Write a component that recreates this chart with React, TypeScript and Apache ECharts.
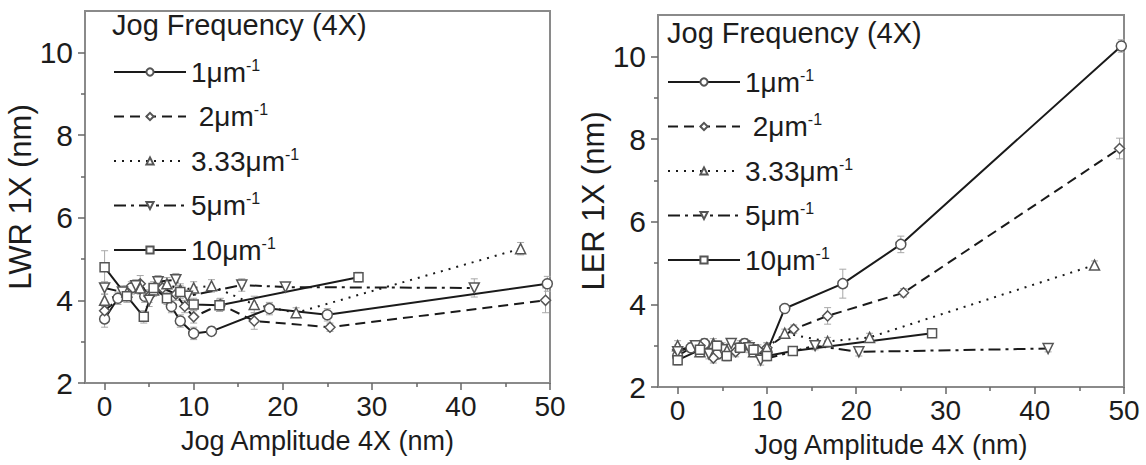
import React, { useEffect, useRef } from "react";
import * as echarts from "echarts";

// ---------- data ----------
const seriesNames = ["1μm", "2μm", "3.33μm", "5μm", "10μm"];
const legendLabels = ["1μm", " 2μm", "3.33μm", "5μm", "10μm"];

const xTicks = [0, 10, 20, 30, 40, 50];
const xMinorTicks = [5, 15, 25, 35, 45];
const yTicks = [2, 4, 6, 8, 10];
const yMinorTicks = [3, 5, 7, 9];

// jog amplitudes (x) per jog frequency
const amp1 = [0, 1.5, 3, 4.5, 6, 7.5, 8.5, 10, 12, 18.5, 25, 49.7];
const amp2 = [0, 2.5, 4, 5, 6.5, 8, 9, 10, 13, 16.8, 25.3, 49.5];
const amp333 = [0, 2.5, 4, 5.5, 7, 8.5, 10, 12, 16.8, 21.5, 46.7];
const amp5 = [0, 2, 3.5, 5, 6, 8, 9.3, 15.4, 20.3, 41.5];
const amp10 = [0, 2.5, 4.4, 5.5, 7, 8.5, 10, 12.9, 28.5];

// LWR 1X (nm)
const lwr1 = [3.55, 4.05, 4.3, 4.1, 4.35, 3.85, 3.5, 3.2, 3.25, 3.8, 3.65, 4.4];
const lwr2 = [3.75, 4.2, 4.4, 4.1, 4.3, 4.15, 3.85, 3.6, 3.9, 3.5, 3.35, 4.0];
const lwr333 = [4.0, 4.2, 4.3, 4.25, 4.4, 4.25, 4.3, 4.35, 3.9, 3.7, 5.25];
const lwr5 = [4.3, 4.2, 4.35, 4.0, 4.45, 4.5, 4.1, 4.37, 4.32, 4.3];
const lwr10 = [4.8, 4.1, 3.6, 4.3, 4.05, 4.2, 3.9, 3.88, 4.56];

const lwrErr1 = [0.2, 0.15, 0.15, 0.15, 0.15, 0.15, 0.15, 0.15, 0.1, 0.15, 0.15, 0.18];
const lwrErr2 = [0.15, 0.15, 0.2, 0.15, 0.15, 0.15, 0.15, 0.15, 0.15, 0.2, 0.1, 0.3];
const lwrErr333 = [0.15, 0.15, 0.15, 0.15, 0.15, 0.15, 0.15, 0.15, 0.2, 0.12, 0.15];
const lwrErr5 = [0.15, 0.15, 0.15, 0.15, 0.15, 0.15, 0.15, 0.15, 0.1, 0.22];
const lwrErr10 = [0.4, 0.15, 0.15, 0.15, 0.15, 0.15, 0.15, 0.15, 0.12];

// LER 1X (nm)
const ler1 = [2.75, 2.95, 3.05, 2.8, 2.95, 3.05, 2.9, 2.85, 3.9, 4.5, 5.45, 10.25];
const ler2 = [2.9, 3.0, 2.7, 2.95, 2.85, 3.0, 2.9, 2.95, 3.4, 3.72, 4.28, 7.77];
const ler333 = [3.0, 2.85, 3.05, 2.9, 3.0, 2.85, 2.95, 3.3, 3.1, 3.2, 4.95];
const ler5 = [2.85, 3.0, 2.8, 2.9, 3.05, 2.95, 2.65, 3.0, 2.85, 2.93];
const ler10 = [2.65, 2.9, 3.0, 2.75, 2.95, 2.9, 2.75, 2.87, 3.3];

const lerErr1 = [0.15, 0.12, 0.12, 0.12, 0.12, 0.12, 0.12, 0.12, 0.1, 0.35, 0.2, 0.15];
const lerErr2 = [0.12, 0.12, 0.12, 0.12, 0.12, 0.12, 0.12, 0.12, 0.1, 0.2, 0.1, 0.25];
const lerErr333 = [0.12, 0.12, 0.12, 0.12, 0.12, 0.12, 0.12, 0.1, 0.1, 0.1, 0.1];
const lerErr5 = [0.12, 0.12, 0.12, 0.12, 0.12, 0.12, 0.12, 0.1, 0.1, 0.08];
const lerErr10 = [0.12, 0.12, 0.12, 0.12, 0.12, 0.12, 0.12, 0.08, 0.08];

const ampSets = [amp1, amp2, amp333, amp5, amp10];
const lwrSets = [lwr1, lwr2, lwr333, lwr5, lwr10];
const lwrErrSets = [lwrErr1, lwrErr2, lwrErr333, lwrErr5, lwrErr10];
const lerSets = [ler1, ler2, ler333, ler5, ler10];
const lerErrSets = [lerErr1, lerErr2, lerErr333, lerErr5, lerErr10];

// ---------- styles ----------
const FONT = "'Liberation Sans', Arial, Helvetica, sans-serif";
const TXT = "#1c1c1c";
const FRAME = "#8a8a8a";

const seriesStyles: any[] = [
  { symbol: "circle", rotate: 0, type: "solid" },
  { symbol: "diamond", rotate: 0, type: [10, 6] },
  { symbol: "triangle", rotate: 0, type: [2, 6] },
  { symbol: "triangle", rotate: 180, type: [12, 5, 3, 5] },
  { symbol: "rect", rotate: 0, type: "solid" },
];

function makeXAxes(gridIndex: number) {
  return [
    {
      gridIndex,
      type: "value",
      min: -2.2,
      max: 50,
      position: "bottom",
      splitLine: { show: false },
      axisLine: { show: true, onZero: false, lineStyle: { color: FRAME, width: 2 } },
      axisTick: { show: true, customValues: xTicks, length: 7, lineStyle: { color: "#666", width: 1.5 } },
      axisLabel: { customValues: xTicks, fontSize: 28, fontFamily: FONT, color: TXT, margin: 9 },
      name: "Jog Amplitude 4X (nm)",
      nameLocation: "middle",
      nameGap: 44,
      nameTextStyle: { fontSize: 27, fontFamily: FONT, color: TXT },
    },
    {
      gridIndex,
      type: "value",
      min: -2.2,
      max: 50,
      position: "bottom",
      splitLine: { show: false },
      axisLine: { show: false, onZero: false },
      axisTick: { show: true, customValues: xMinorTicks, length: 4, lineStyle: { color: "#666", width: 1.5 } },
      axisLabel: { show: false },
    },
  ];
}

function makeYAxes(gridIndex: number, name: string) {
  return [
    {
      gridIndex,
      type: "value",
      min: 2,
      max: 11,
      position: "left",
      splitLine: { show: false },
      axisLine: { show: true, onZero: false, lineStyle: { color: FRAME, width: 2 } },
      axisTick: { show: true, customValues: yTicks, length: 7, lineStyle: { color: "#666", width: 1.5 } },
      axisLabel: { customValues: yTicks, fontSize: 30, fontFamily: FONT, color: TXT, margin: 12 },
      name,
      nameLocation: "middle",
      nameGap: 37,
      nameTextStyle: { fontSize: 31, fontFamily: FONT, color: TXT },
    },
    {
      gridIndex,
      type: "value",
      min: 2,
      max: 11,
      position: "left",
      splitLine: { show: false },
      axisLine: { show: false, onZero: false },
      axisTick: { show: true, customValues: yMinorTicks, length: 4, lineStyle: { color: "#666", width: 1.5 } },
      axisLabel: { show: false },
    },
  ];
}

function errorRender(params: any, api: any) {
  const x = api.value(0);
  const lo = api.coord([x, api.value(1)]);
  const hi = api.coord([x, api.value(2)]);
  const w = 3.5;
  const style = { stroke: "#a8a8a8", lineWidth: 1 };
  return {
    type: "group",
    children: [
      { type: "line", shape: { x1: lo[0], y1: lo[1], x2: hi[0], y2: hi[1] }, style },
      { type: "line", shape: { x1: lo[0] - w, y1: lo[1], x2: lo[0] + w, y2: lo[1] }, style },
      { type: "line", shape: { x1: hi[0] - w, y1: hi[1], x2: hi[0] + w, y2: hi[1] }, style },
    ],
  };
}

function makeSeries(axisIdx: number, ySets: number[][], errSets: number[][], tag: string) {
  const out: any[] = [];
  seriesNames.forEach((name, k) => {
    const xs = ampSets[k];
    const ys = ySets[k];
    const es = errSets[k];
    out.push({
      name: "err-" + tag + "-" + name,
      type: "custom",
      xAxisIndex: axisIdx,
      yAxisIndex: axisIdx,
      silent: true,
      z: 1,
      renderItem: errorRender,
      encode: { x: 0, y: [1, 2] },
      data: xs.map((x, i) => [x, ys[i] - es[i], ys[i] + es[i]]),
    });
  });
  seriesNames.forEach((name, k) => {
    const xs = ampSets[k];
    const ys = ySets[k];
    const st = seriesStyles[k];
    out.push({
      name,
      type: "line",
      xAxisIndex: axisIdx,
      yAxisIndex: axisIdx,
      z: 3,
      symbol: st.symbol,
      symbolRotate: st.rotate,
      symbolSize: st.symbol === "rect" ? 9 : 10,
      showAllSymbol: true,
      lineStyle: { color: "#1a1a1a", width: 2, type: st.type },
      itemStyle: { color: "#ffffff", borderColor: "#555", borderWidth: 1.5 },
      data: xs.map((x, i) => [x, ys[i]]),
    });
  });
  return out;
}

function makeLegend(left: number, top: number) {
  return {
    data: seriesNames,
    orient: "vertical",
    left,
    top,
    padding: 0,
    itemWidth: 72,
    itemHeight: 9,
    itemGap: 15.5,
    selectedMode: false,
    lineStyle: { width: 2, color: "#1a1a1a" },
    formatter: (name: string) => {
      const k = seriesNames.indexOf(name);
      return "{a|" + legendLabels[k] + "}{s|-1}";
    },
    textStyle: {
      rich: {
        a: { fontSize: 28, fontFamily: FONT, color: TXT, lineHeight: 30 },
        s: { fontSize: 16, fontFamily: FONT, color: TXT, lineHeight: 15, verticalAlign: "top" },
      },
    },
  };
}

export default function App() {
  const ref = useRef<HTMLDivElement>(null);
  useEffect(() => {
    if (!ref.current) return;
    const chart = echarts.init(ref.current, undefined, { renderer: "svg" });
    const option: any = {
      animation: false,
      backgroundColor: "#ffffff",
      title: [
        {
          text: "Jog Frequency (4X)",
          left: 112,
          top: 10,
          padding: 0,
          textStyle: { fontSize: 29, fontWeight: "normal", fontFamily: FONT, color: TXT },
        },
        {
          text: "Jog Frequency (4X)",
          left: 667,
          top: 18,
          padding: 0,
          textStyle: { fontSize: 29, fontWeight: "normal", fontFamily: FONT, color: TXT },
        },
      ],
      legend: [makeLegend(113, 57), makeLegend(667, 67)],
      grid: [
        { left: 85, top: 11, width: 465, height: 372, show: true, borderColor: FRAME, borderWidth: 2, backgroundColor: "transparent" },
        { left: 658, top: 15, width: 466, height: 372, show: true, borderColor: FRAME, borderWidth: 2, backgroundColor: "transparent" },
      ],
      xAxis: [...makeXAxes(0), ...makeXAxes(1)],
      yAxis: [...makeYAxes(0, "LWR 1X (nm)"), ...makeYAxes(1, "LER 1X (nm)")],
      series: [...makeSeries(0, lwrSets, lwrErrSets, "L"), ...makeSeries(2, lerSets, lerErrSets, "R")],
    };
    chart.setOption(option);
    return () => chart.dispose();
  }, []);
  return (
    <div
      ref={ref}
      style={{ position: "fixed", left: 0, top: 0, width: 1146, height: 465, background: "#fff" }}
    />
  );
}
